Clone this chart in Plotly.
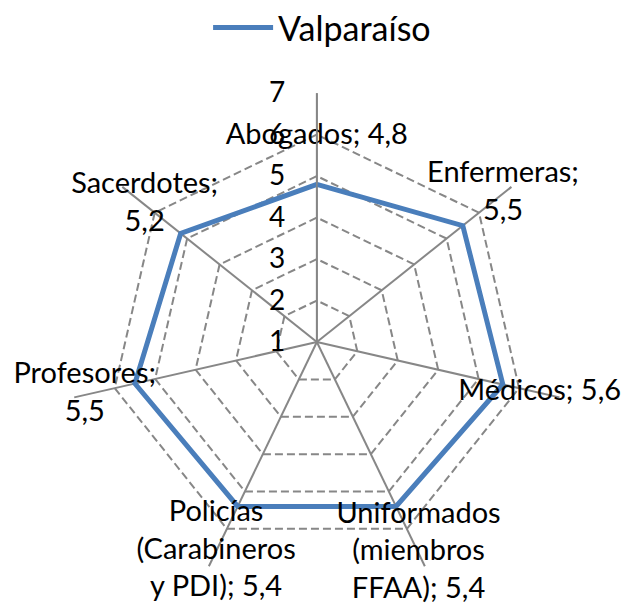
import plotly.graph_objects as go

categories = ["Abogados", "Enfermeras", "Médicos", "Uniformados (miembros FFAA)",
              "Policías (Carabineros y PDI)", "Profesores", "Sacerdotes"]
values = [4.8, 5.5, 5.6, 5.4, 5.4, 5.5, 5.2]
label_texts = ["Abogados; 4,8", "Enfermeras;<br>5,5", "Médicos; 5,6",
               "Uniformados<br>(miembros<br>FFAA); 5,4",
               "Policías<br>(Carabineros<br>y PDI); 5,4",
               "Profesores;<br>5,5", "Sacerdotes;<br>5,2"]
label_r = [5.94, 6.74, 6.51, 6.65, 6.60, 6.74, 6.31]
radial_ticks = [1, 2, 3, 4, 5, 6, 7]
series_name = "Valparaíso"

FONT = "Lato"
GRID = "#878787"
BLUE = "#4a7ebb"

fig = go.Figure()
fig.add_trace(go.Scatterpolar(
    r=values + values[:1], theta=categories + categories[:1],
    mode="lines", name=series_name,
    line=dict(color=BLUE, width=5), cliponaxis=False,
))
fig.add_trace(go.Scatterpolar(
    r=label_r, theta=categories, mode="text", text=label_texts,
    textposition="middle center", showlegend=False, cliponaxis=False,
    textfont=dict(family=FONT, size=29, color="black"), hoverinfo="skip",
))

fig.update_layout(
    width=641, height=605,
    margin=dict(l=0, r=0, t=0, b=0, autoexpand=False),
    paper_bgcolor="white", plot_bgcolor="white",
    font=dict(family=FONT, color="black"),
    showlegend=True,
    legend=dict(x=0.49, xanchor="center", y=0.967, yanchor="middle",
                orientation="h", itemwidth=60,
                font=dict(family=FONT, size=34, color="black")),
    polar=dict(
        domain=dict(x=[0.0936, 0.8701], y=[0.0363, 0.8595]),
        gridshape="linear",
        bgcolor="white",
        angularaxis=dict(
            categoryorder="array", categoryarray=categories,
            direction="clockwise", rotation=90,
            showticklabels=False, ticks="", showline=False,
            gridcolor=GRID, gridwidth=1.5,
        ),
        radialaxis=dict(
            range=[1, 7], tickvals=radial_ticks, ticktext=[str(t) for t in radial_ticks],
            angle=90, tickangle=90, side="counterclockwise",
            showline=True, linecolor=GRID, linewidth=1.5,
            gridcolor=GRID, gridwidth=1.6, griddash="8px,4px",
            ticks="outside", ticklen=21, tickcolor="rgba(0,0,0,0)",
            tickfont=dict(family=FONT, size=28, color="black"),
        ),
    ),
)

fig.write_html("out.html")
